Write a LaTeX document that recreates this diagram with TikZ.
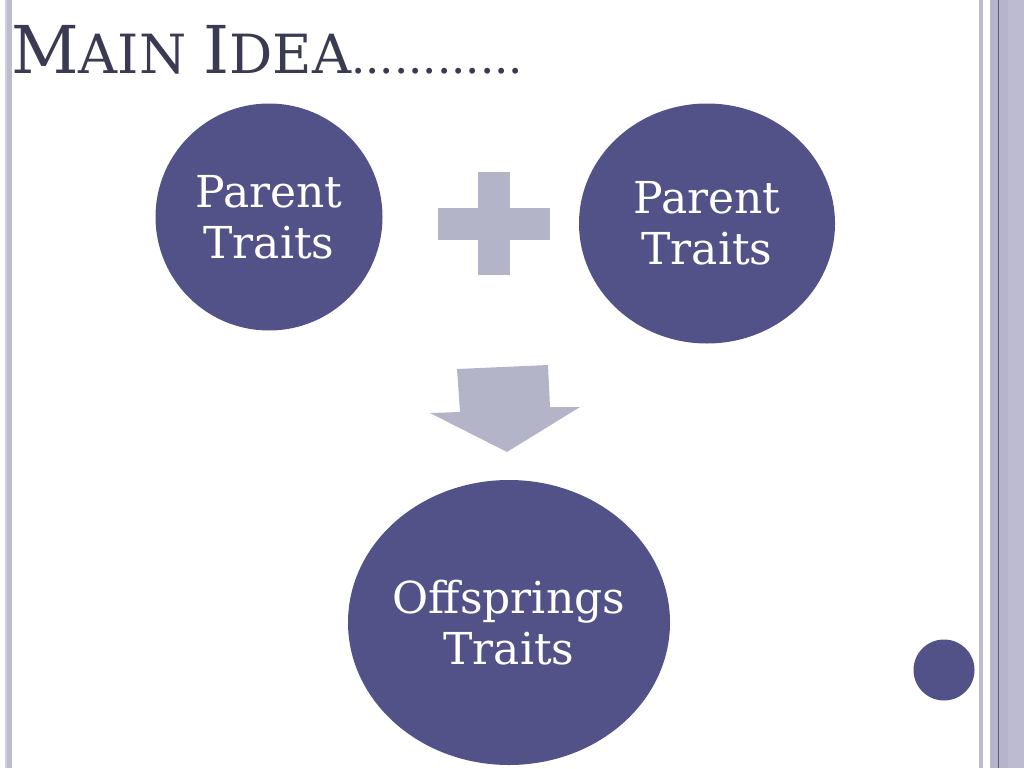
\documentclass[tikz,border=0pt]{standalone}
\usepackage{fontspec}
\setmainfont{DejaVu Serif}
\usetikzlibrary{shapes.geometric}
\definecolor{ovalblue}{RGB}{82,82,136}
\definecolor{signgray}{RGB}{180,180,201}
\definecolor{titlegray}{RGB}{58,58,82}
\definecolor{barlight}{RGB}{188,187,208}
\definecolor{barpale}{RGB}{208,207,223}
\definecolor{bardark}{RGB}{181,180,202}
\definecolor{barline}{RGB}{90,90,128}

\tikzset{
  trait/.style={ellipse, fill=ovalblue, text=white, align=center, inner sep=0pt,
    font=\fontsize{44}{51}\selectfont},
  sign/.style={fill=signgray}
}

\begin{document}
\begin{tikzpicture}[x=1pt, y=-1pt]
            \useasboundingbox (0,0) rectangle (1024,768);
            % side bars
            \fill[barpale]  (5,0) rectangle (7,768);
            \fill[barlight] (7,0) rectangle (12,768);
            \fill[barlight] (979,0) rectangle (983,768);
            \fill[bardark]  (990,0) rectangle (1008,768);
            \fill[barlight] (1008,0) rectangle (1024,768);
            \draw[barline, line width=1.2] (998.3,0) -- (998.3,768);
            % title
            \node[anchor=base west, inner sep=0pt, text=titlegray] (title) at (11,73)
              {\fontsize{66}{66}\selectfont M\fontsize{54}{54}\selectfont AIN
               \fontsize{66}{66}\selectfont I\fontsize{54}{54}\selectfont DEA\fontsize{45}{45}\selectfont............};
            % traits
            \node[trait, minimum width=227, minimum height=227] (parentL) at (269,217) {Parent\\Traits};
            \node[trait, minimum width=256, minimum height=240] (parentR) at (707,223.5) {Parent\\Traits};
            \node[trait, inner xsep=-8pt, minimum width=322, minimum height=285] (offspring) at (509,622.5) {Offsprings\\Traits};
            % plus and arrow
            \fill[sign] (438,208) rectangle (550,240);
            \fill[sign] (478,172) rectangle (510,275);
            \fill[sign] (457,369) -- (548,365) -- (550,407) -- (580,407) -- (507,452)
              -- (430,413) -- (460,412) -- cycle;
            \node[circle, fill=ovalblue, inner sep=0pt, minimum size=61] (dot) at (944,670) {};
        \end{tikzpicture}
\end{document}
